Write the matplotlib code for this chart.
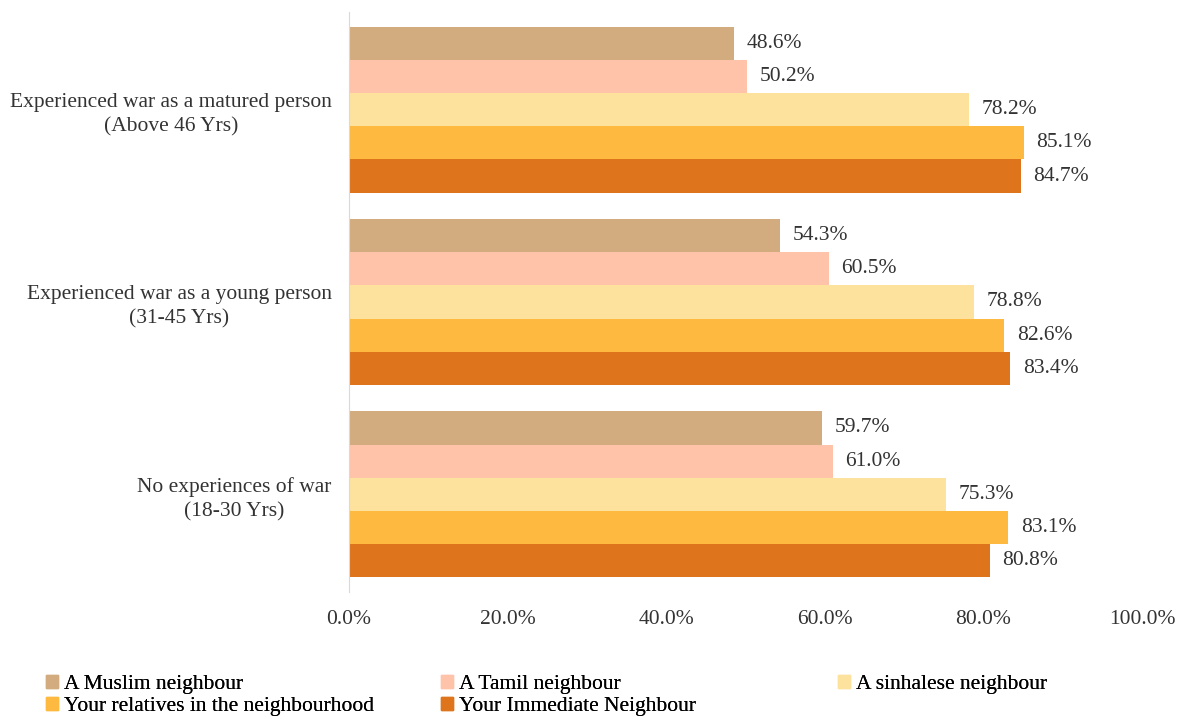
import numpy as np
import matplotlib.pyplot as plt
import matplotlib.patches as mpatches

plt.rcParams['font.family'] = ['Liberation Serif', 'DejaVu Serif']

groups = ["No experiences of war\n(18-30 Yrs)",
          "Experienced war as a young person\n(31-45 Yrs)",
          "Experienced war as a matured person\n(Above 46 Yrs)"]
series = ["A Muslim neighbour", "A Tamil neighbour", "A sinhalese neighbour",
          "Your relatives in the neighbourhood", "Your Immediate Neighbour"]
muslim = [59.7, 54.3, 48.6]
tamil = [61.0, 60.5, 50.2]
sinhalese = [75.3, 78.8, 78.2]
relatives = [83.1, 82.6, 85.1]
immediate = [80.8, 83.4, 84.7]
colors = ['#D2AC7E', '#FFC3A9', '#FCE29C', '#FDB940', '#DE741C']

values = [muslim, tamil, sinhalese, relatives, immediate]
fs = 15.5

fig = plt.figure(figsize=(11.84, 7.16), dpi=100)
ax = fig.add_axes([349 / 1184, 1 - 592 / 716, (1142 - 349) / 1184, 580 / 716])

h = 0.172
y = np.arange(len(groups))
for i, (vals, c) in enumerate(zip(values, colors)):
    pos = y + (2 - i) * h
    ax.barh(pos, vals, height=h, color=c)
    for p, v in zip(pos, vals):
        ax.text(v + 1.6, p, "%.1f%%" % v, va='center', ha='left', fontsize=fs, color='#333333')

ax.set_xlim(0, 100)
ax.set_ylim(-0.51, 2.51)
ax.set_xticks(np.arange(0, 101, 20))
ax.set_xticklabels(["%.1f%%" % t for t in np.arange(0, 101, 20)], fontsize=fs, color='#333333')
ax.set_yticks(y)
ax.set_yticklabels(groups, fontsize=fs, color='#333333', multialignment='center', linespacing=1.35)
for s in ['top', 'right', 'bottom']:
    ax.spines[s].set_visible(False)
ax.spines['left'].set_color('#D9D9D9')
ax.tick_params(axis='both', length=0)
ax.tick_params(axis='x', pad=13)
ax.tick_params(axis='y', pad=12.5)

# legend, one column at a time (row-wise order like the original)
handles = [mpatches.Patch(color=c, label=s) for s, c in zip(series, colors)]
cols = [[handles[0], handles[3]], [handles[1], handles[4]], [handles[2]]]
xs = [46, 441, 838]
for hs, x0 in zip(cols, xs):
    leg = fig.legend(handles=hs, loc='upper left', bbox_to_anchor=(x0 / 1184, 1 - 675 / 716),
                     frameon=False, fontsize=fs, handlelength=0.55, handleheight=0.55,
                     handletextpad=0.3, labelspacing=0.15, borderpad=0, borderaxespad=0)
    fig.add_artist(leg)

fig.savefig('out.png', dpi=100)
